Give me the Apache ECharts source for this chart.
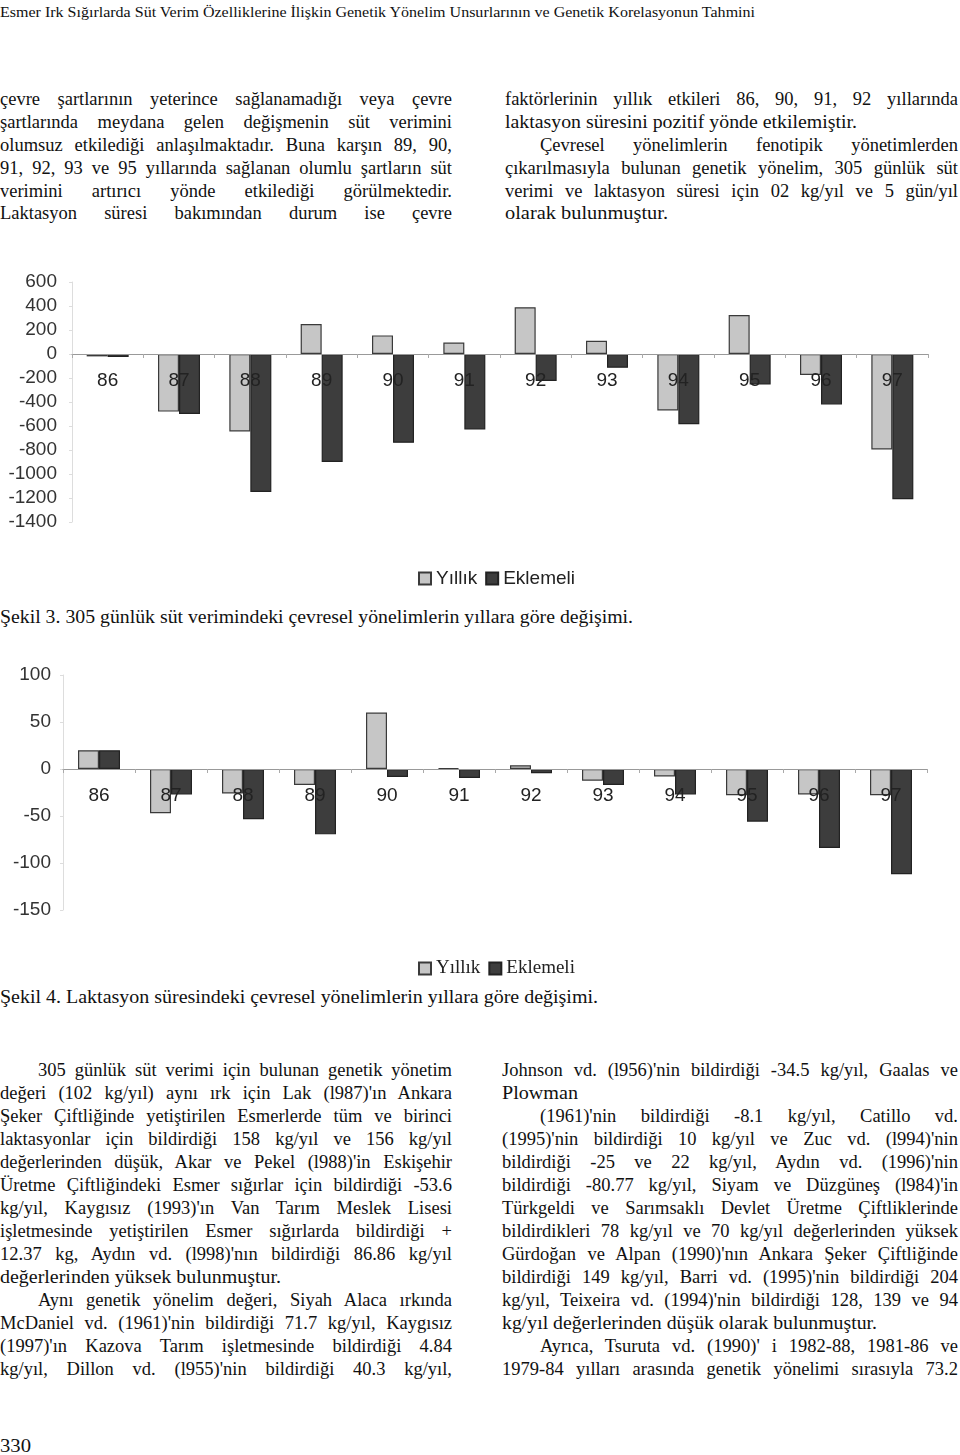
<!DOCTYPE html>
<html><head><meta charset="utf-8">
<script src="https://cdn.jsdelivr.net/npm/echarts@6/dist/echarts.min.js"></script>
<style>
html,body{margin:0;padding:0;background:#fff;}
body{width:960px;height:1455px;position:relative;overflow:hidden;color:#111;}
.chart{position:absolute;left:0;width:960px;}
</style></head>
<body>
<div id="c1" class="chart" style="top:260px;height:330px;"></div>
<div id="c2" class="chart" style="top:650px;height:330px;"></div>
<script>
// ---------- data ----------
const years = ['86','87','88','89','90','91','92','93','94','95','96','97'];
const milkYillik   = [-20, -480, -645, 250, 155, 95, 390, 110, -470, 325, -175, -795];
const milkEklemeli = [-25, -500, -1150, -900, -740, -630, -225, -115, -585, -255, -420, -1210];
const lactYillik   = [20, -47, -26, -17, 60, 1, 4, -12.5, -8, -28, -27, -28];
const lactEklemeli = [20, -27, -53.5, -69.5, -8.5, -9.5, -4.5, -17, -27, -56, -84, -112];
const seriesNames = ['Yıllık', 'Eklemeli'];
const milkTicks = {min: -1400, max: 600, interval: 200};
const lactTicks = {min: -150, max: 100, interval: 50};

const header = 'Esmer Irk Sığırlarda Süt Verim Özelliklerine İlişkin Genetik Yönelim Unsurlarının ve Genetik Korelasyonun Tahmini';
const topLeft = [
 ['çevre şartlarının yeterince sağlanamadığı veya çevre','j',0,452],
 ['şartlarında meydana gelen değişmenin süt verimini','j',0,452],
 ['olumsuz etkilediği anlaşılmaktadır. Buna karşın 89, 90,','j',0,452],
 ['91, 92, 93 ve 95 yıllarında sağlanan olumlu şartların süt','j',0,452],
 ['verimini artırıcı yönde etkilediği görülmektedir.','j',0,452],
 ['Laktasyon süresi bakımından durum ise çevre','j',0,452]
];
const topRight = [
 ['faktörlerinin yıllık etkileri 86, 90, 91, 92 yıllarında','j',505,958],
 ['laktasyon süresini pozitif yönde etkilemiştir.','f',505,857],
 ['Çevresel yönelimlerin fenotipik yönetimlerden','j',540,958],
 ['çıkarılmasıyla bulunan genetik yönelim, 305 günlük süt','j',505,958],
 ['verimi ve laktasyon süresi için 02 kg/yıl ve 5 gün/yıl','j',505,958],
 ['olarak bulunmuştur.','f',505,668]
];
const botLeft = [
 ['305 günlük süt verimi için bulunan genetik yönetim','j',38,452],
 ['değeri (102 kg/yıl) aynı ırk için Lak (l987)\'ın Ankara','j',0,452],
 ['Şeker Çiftliğinde yetiştirilen Esmerlerde tüm ve birinci','j',0,452],
 ['laktasyonlar için bildirdiği 158 kg/yıl ve 156 kg/yıl','j',0,452],
 ['değerlerinden düşük, Akar ve Pekel (l988)\'in Eskişehir','j',0,452],
 ['Üretme Çiftliğindeki Esmer sığırlar için bildirdiği -53.6','j',0,452],
 ['kg/yıl, Kaygısız (1993)\'ın Van Tarım Meslek Lisesi','j',0,452],
 ['işletmesinde yetiştirilen Esmer sığırlarda bildirdiği +','j',0,452],
 ['12.37 kg, Aydın vd. (l998)\'nın bildirdiği 86.86 kg/yıl','j',0,452],
 ['değerlerinden yüksek bulunmuştur.','f',0,281],
 ['Aynı genetik yönelim değeri, Siyah Alaca ırkında','j',38,452],
 ['McDaniel vd. (1961)\'nin bildirdiği 71.7 kg/yıl, Kaygısız','j',0,452],
 ['(1997)\'ın Kazova Tarım işletmesinde bildirdiği 4.84','j',0,452],
 ['kg/yıl, Dillon vd. (l955)\'nin bildirdiği 40.3 kg/yıl,','j',0,452]
];
const botRight = [
 ['Johnson vd. (l956)\'nin bildirdiği -34.5 kg/yıl, Gaalas ve','j',502,958],
 ['Plowman','f',502,578],
 ['(1961)\'nin bildirdiği -8.1 kg/yıl, Catillo vd.','j',540,958],
 ['(1995)\'nin bildirdiği 10 kg/yıl ve Zuc vd. (l994)\'nin','j',502,958],
 ['bildirdiği -25 ve 22 kg/yıl, Aydın vd. (1996)\'nin','j',502,958],
 ['bildirdiği -80.77 kg/yıl, Siyam ve Düzgüneş (l984)\'in','j',502,958],
 ['Türkgeldi ve Sarımsaklı Devlet Üretme Çiftliklerinde','j',502,958],
 ['bildirdikleri 78 kg/yıl ve 70 kg/yıl değerlerinden yüksek','j',502,958],
 ['Gürdoğan ve Alpan (1990)\'nın Ankara Şeker Çiftliğinde','j',502,958],
 ['bildirdiği 149 kg/yıl, Barri vd. (1995)\'nin bildirdiği 204','j',502,958],
 ['kg/yıl, Teixeira vd. (1994)\'nin bildirdiği 128, 139 ve 94','j',502,958],
 ['kg/yıl değerlerinden düşük olarak bulunmuştur.','f',502,877],
 ['Ayrıca, Tsuruta vd. (1990)\' i 1982-88, 1981-86 ve','j',540,958],
 ['1979-84 yılları arasında genetik yönelimi sırasıyla 73.2','j',502,958]
];
const caption3 = 'Şekil 3. 305 günlük süt verimindeki çevresel yönelimlerin yıllara göre değişimi.';
const caption4 = 'Şekil 4. Laktasyon süresindeki çevresel yönelimlerin yıllara göre değişimi.';

// ---------- text helper ----------
const SERIF = '"Liberation Serif","Times New Roman",serif';
function measure(text, size, family){
  const s=document.createElement('span');
  s.style.cssText='position:absolute;visibility:hidden;white-space:nowrap;font-size:'+size+'px;font-family:'+family;
  s.textContent=text;document.body.appendChild(s);const w=s.getBoundingClientRect().width;s.remove();return w;
}
function line(text, mode, x0, x1, yc, size, scale, family){
  family=family||SERIF; const lh=size*1.25; const w=x1-x0;
  const nw=measure(text,size,family);
  const d=document.createElement('div');
  d.style.cssText='position:absolute;left:'+x0+'px;top:'+(yc-lh/2)+'px;font-size:'+size+'px;font-family:'+family+';line-height:'+lh+'px;transform-origin:0 0;color:#111;';
  d.textContent=text;
  let s;
  if(mode==='j'){
    s=Math.min(scale,(w-1)/nw);
    d.style.width=(w/s)+'px'; d.style.textAlign='justify'; d.style.textAlignLast='justify';
  } else {
    s=w/nw; d.style.whiteSpace='nowrap';
  }
  d.style.transform='scaleX('+s+')';
  document.body.appendChild(d);
}
line(header,'f',0,755,12,15,1);
topLeft.forEach((l,i)=>line(l[0],l[1],l[2],l[3],100+i*22.8,18.5,1));
topRight.forEach((l,i)=>line(l[0],l[1],l[2],l[3],100+i*22.8,18.5,1));
line(caption3,'f',0,633,618,18.5,1);
line(caption4,'f',0,598,998,18.5,1);
botLeft.forEach((l,i)=>line(l[0],l[1],l[2],l[3],1071+i*23,18.5,1));
botRight.forEach((l,i)=>line(l[0],l[1],l[2],l[3],1071+i*23,18.5,1));
line('330','f',0,31,1447,18.5,1);

// ---------- charts ----------
const SANS='"Liberation Sans",Arial,sans-serif';
function barOpt(yt, dYil, dEk, grid, legendFont, yMargin, legendTop){
  // put the category axis on the zero line of the value scale
  const zeroOffset = -grid.height * (0 - yt.min) / (yt.max - yt.min);
  return {
    animation:false,
    backgroundColor:'transparent',
    grid:grid,
    legend:{data:seriesNames,left:413,top:legendTop,itemWidth:12,itemHeight:12,itemGap:8,icon:'rect',
      textStyle:{fontFamily:legendFont,fontSize:19,color:'#222'}},
    xAxis:{type:'category',data:years,position:'bottom',offset:zeroOffset,z:10,
      axisLine:{onZero:false,lineStyle:{color:'#999',width:1}},
      axisTick:{show:true,length:4,lineStyle:{color:'#aaa'}},
      axisLabel:{fontFamily:SANS,fontSize:19,color:'#222',margin:17},
      splitLine:{show:false}},
    yAxis:{type:'value',min:yt.min,max:yt.max,interval:yt.interval,
      axisLine:{show:true,lineStyle:{color:'#ddd'}},
      axisTick:{show:true,length:3,lineStyle:{color:'#ddd'}},
      axisLabel:{fontFamily:SANS,fontSize:19,color:'#333',margin:yMargin,formatter:v=>String(v)},
      splitLine:{show:false}},
    series:[
      {name:seriesNames[0],type:'bar',data:dYil,barWidth:21,barGap:'0%',z:3,
       itemStyle:{color:'#c6c6c6',borderColor:'#3a3a3a',borderWidth:1.2}},
      {name:seriesNames[1],type:'bar',data:dEk,barWidth:21,barGap:'0%',z:3,
       itemStyle:{color:'#3d3d3d',borderColor:'#222',borderWidth:1.2}}
    ]
  };
}
const c1=echarts.init(document.getElementById('c1'),null,{renderer:'canvas'});
c1.setOption(barOpt(milkTicks,milkYillik,milkEklemeli,{left:72,right:32,top:22,height:240},SANS,15,304));
const c2=echarts.init(document.getElementById('c2'),null,{renderer:'canvas'});
c2.setOption(barOpt(lactTicks,lactYillik,lactEklemeli,{left:63,right:33,top:25,height:235},SERIF,12,304));
</script>
</body></html>
